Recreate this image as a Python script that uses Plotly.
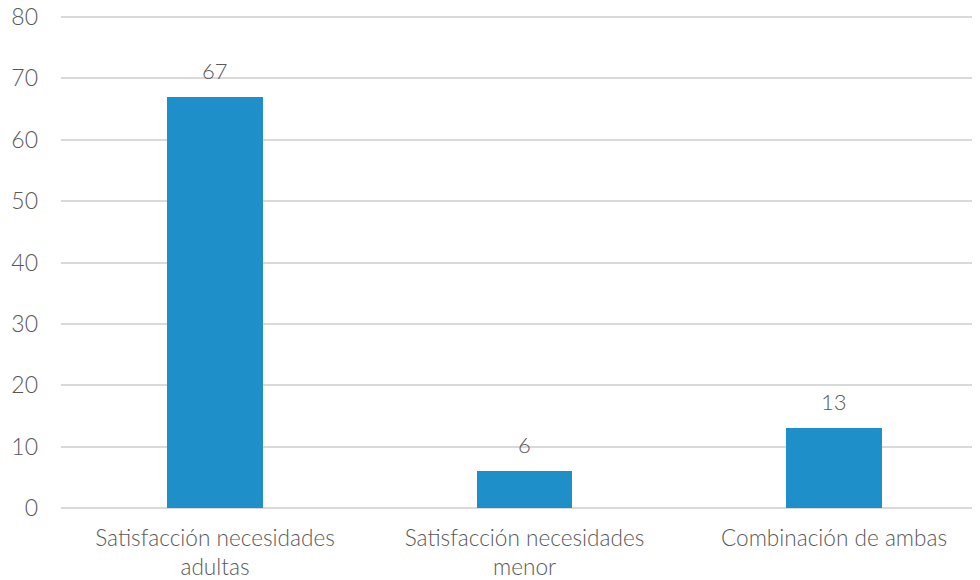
import plotly.graph_objects as go

categories = ["Satisfacción necesidades<br>adultas", "Satisfacción necesidades<br>menor", "Combinación de ambas"]
values = [67, 6, 13]
y_ticks = [0, 10, 20, 30, 40, 50, 60, 70, 80]

font_family = "Lato, 'Open Sans', sans-serif"
gray = "#595959"

fig = go.Figure(go.Bar(
    x=[0, 1, 2],
    y=values,
    width=0.31,
    marker=dict(color="#1F8FCA", line=dict(width=0)),
    cliponaxis=False,
))

for i, v in enumerate(values):
    fig.add_annotation(
        x=i, y=v, text=str(v), showarrow=False,
        yanchor="bottom", yshift=11,
        font=dict(family=font_family, size=22, color=gray, weight=300),
    )

fig.update_layout(
    width=980, height=580,
    margin=dict(l=53, r=0, t=6, b=80),
    plot_bgcolor="white", paper_bgcolor="white",
    showlegend=False,
    xaxis=dict(
        range=[-0.4976, 2.4976],
        tickmode="array", tickvals=[0, 1, 2], ticktext=categories,
        showgrid=False, zeroline=False, showline=False,
        tickfont=dict(family=font_family, size=22.6, color=gray, weight=300),
        ticks="", automargin=False, ticklabelstandoff=14,
        ticklabeloverflow="allow",
    ),
    yaxis=dict(
        range=[0, 80.5],
        tickvals=y_ticks,
        showgrid=True, gridcolor="#D9D9D9", gridwidth=1.5,
        zeroline=True, zerolinecolor="#D9D9D9", zerolinewidth=1.5,
        showline=False, ticks="", automargin=False,
        tickfont=dict(family=font_family, size=23, color=gray, weight=300),
        ticklabelstandoff=22, ticklabeloverflow="allow",
    ),
    bargap=0,
)

fig.write_html("out.html")
